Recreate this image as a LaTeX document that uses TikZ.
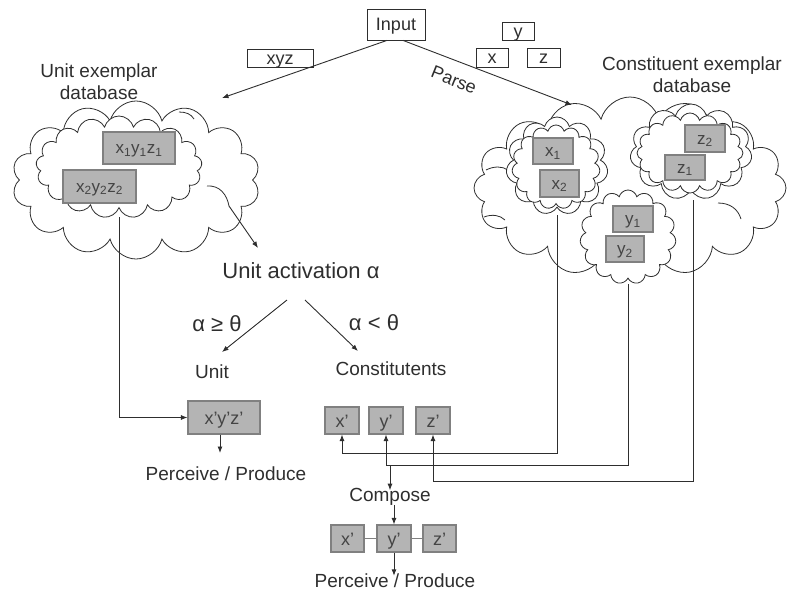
\documentclass[tikz,border=0pt]{standalone}
\usepackage{fontspec}
\setmainfont{Liberation Sans}
\usetikzlibrary{shapes.symbols,arrows.meta}
\definecolor{ink}{HTML}{2E2E2E}
\definecolor{boxfill}{HTML}{B4B4B4}
\definecolor{boxline}{HTML}{808080}
\definecolor{boxtext}{HTML}{444444}

\begin{document}
\begin{tikzpicture}[x=1pt,y=-1pt,
  every node/.style={text=ink},
  wbox/.style={draw=ink, line width=0.8pt, fill=white, inner sep=0pt,
    text height=12.6pt, text depth=0pt,
    font=\fontsize{18}{18}\selectfont},
  gbox/.style={draw=boxline, line width=1.1pt, fill=boxfill, text=boxtext,
    inner sep=0pt, text height=11.2pt, text depth=0pt,
    font=\fontsize{17}{17}\selectfont},
  pbox/.style={gbox, text height=13pt, font=\fontsize{18}{18}\selectfont},
  lbl/.style={font=\fontsize{19}{22}\selectfont, align=center, inner sep=0pt},
  big/.style={font=\fontsize{22}{24}\selectfont, inner sep=0pt},
  blob/.style={cloud, draw=ink, line width=0.8pt, fill=white,
    cloud ignores aspect, cloud puffs=#1, cloud puff arc=150, inner sep=0pt},
  conn/.style={draw=ink, line width=0.9pt},
  arr/.style={conn, -{Latex[length=6.5pt,width=5pt]}},
]
\useasboundingbox (0,0) rectangle (788,592);

% ---- input and its two readings ----
\node[wbox, minimum width=58pt, minimum height=31pt] (input) at (396,24.5) {Input};
\node[wbox, minimum width=66pt, minimum height=18pt] (xyz) at (280,58) {xyz};
\node[wbox, minimum width=32pt, minimum height=18pt] (py) at (518,31) {y};
\node[wbox, minimum width=32pt, minimum height=19pt] (px) at (492,57.5) {x};
\node[wbox, minimum width=33pt, minimum height=19pt] (pz) at (543.5,57.5) {z};

% ---- unit exemplar database ----
\node[lbl] (ulabel) at (99,82) {Unit exemplar\\database};
\node[blob=14, minimum width=248pt, minimum height=158pt] (ucloud) at (136,180) {};
\node[blob=17, minimum width=166pt, minimum height=102pt] (uinner) at (119,167) {};
\draw[conn, line width=0.8pt] (179,112) .. controls (186,112) and (191,114) .. (194,119);
\draw[conn, line width=0.8pt] (207,186) .. controls (220,185) and (227,195) .. (229,206);
\node[gbox, minimum width=72pt, minimum height=32pt] (u1) at (139,148) {x\textsubscript{1}y\textsubscript{1}z\textsubscript{1}};
\node[gbox, minimum width=73pt, minimum height=33pt] (u2) at (99.5,186.5) {x\textsubscript{2}y\textsubscript{2}z\textsubscript{2}};

% ---- constituent exemplar database ----
\node[lbl] (clabel) at (692,75) {Constituent exemplar\\database};
\node[blob=16, minimum width=312pt, minimum height=182pt] (ccloud) at (630,188) {};
\draw[conn, line width=0.8pt] (718,203) .. controls (730,203) and (738,209) .. (741,219);
\draw[conn, line width=0.8pt] (486,170) .. controls (494,166) and (502,166) .. (508,170);
\draw[conn, line width=0.8pt] (484,217) .. controls (492,214) and (500,215) .. (505,220);
\node[blob=11, minimum width=102pt, minimum height=98pt] (xcloud) at (557,166) {};
\node[blob=15, minimum width=88pt, minimum height=84pt] (xinner) at (556,167) {};
\node[blob=11, minimum width=122pt, minimum height=96pt] (zcloud) at (691,152) {};
\node[blob=16, minimum width=106pt, minimum height=80pt] (zinner) at (690,153) {};
\node[blob=15, minimum width=96pt, minimum height=94pt] (ycloud) at (628,237) {};
\node[gbox, minimum width=40pt, minimum height=26pt] (x1) at (553,151) {x\textsubscript{1}};
\node[gbox, minimum width=39pt, minimum height=27pt] (x2) at (559.5,183.5) {x\textsubscript{2}};
\node[gbox, minimum width=40pt, minimum height=27pt] (z2) at (705,138.5) {z\textsubscript{2}};
\node[gbox, minimum width=40pt, minimum height=25pt] (z1) at (685,167.5) {z\textsubscript{1}};
\node[gbox, minimum width=40pt, minimum height=26pt] (y1) at (633,219) {y\textsubscript{1}};
\node[gbox, minimum width=38pt, minimum height=26pt] (y2) at (625,249) {y\textsubscript{2}};

% ---- parsing arrows ----
\coordinate (uin) at (222,98);
\coordinate (cin) at (572,105);
\draw[arr] ([xshift=-9pt]input.south) -- (uin);
\draw[arr] ([xshift=7pt]input.south) -- (cin);
\node[lbl, font=\fontsize{18}{20}\selectfont, rotate=-22] (parse) at (454,80) {Parse};

% ---- activation and decision ----
\node[big] (act) at (301,271) {Unit activation α};
\coordinate (uout) at (229,206);
\coordinate (acttip) at (258,248);
\draw[arr] (uout) -- (acttip);
\coordinate (splitl) at (287,300);
\coordinate (splitr) at (305,300);
\coordinate (unittip) at (222,352);
\coordinate (consttip) at (358,351);
\draw[arr] (splitl) -- (unittip);
\draw[arr] (splitr) -- (consttip);
\node[big] (ge) at (217,324) {α ≥ θ};
\node[big] (lt) at (374,323) {α < θ};
\node[lbl] (unit) at (212,372) {Unit};
\node[lbl] (const) at (391,369) {Constitutents};

% ---- unit route ----
\node[pbox, minimum width=72pt, minimum height=33pt] (uxyz) at (224,417.5) {x'y'z'};
\node[lbl] (pp1) at (226,474) {Perceive / Produce};
\coordinate (ustart) at (119,217);
\coordinate (pp1tip) at (220,453);
\draw[arr] (ustart) |- (uxyz.west);
\draw[arr] (uxyz.south -| pp1tip) -- (pp1tip);

% ---- constituent route ----
\node[pbox, minimum width=34pt, minimum height=27pt] (cx) at (342,420.5) {x'};
\node[pbox, minimum width=34pt, minimum height=27pt] (cy) at (386,420.5) {y'};
\node[pbox, minimum width=34pt, minimum height=27pt] (cz) at (433,420.5) {z'};
\coordinate (xstart) at (557,215);
\coordinate (ystart) at (628,284);
\coordinate (zstart) at (693,200);
\coordinate (xbend) at (557,453);
\coordinate (ybend) at (628,465);
\coordinate (zbend) at (693,481);
\draw[arr] (xstart) -- (xbend) -| (cx.south);
\draw[arr] (ystart) -- (ybend) -| (cy.south);
\draw[arr] (zstart) -- (zbend) -| (cz.south);

\node[lbl] (compose) at (390,497) {Compose};
\coordinate (cjoin) at (390,465);
\draw[arr] (cjoin) -- ([yshift=-2pt]compose.north);

\node[pbox, minimum width=33pt, minimum height=27pt] (bx) at (347.5,538.5) {x'};
\node[pbox, minimum width=34pt, minimum height=27pt] (by) at (394,538.5) {y'};
\node[pbox, minimum width=33pt, minimum height=27pt] (bz) at (439.5,538.5) {z'};
\draw[conn, draw=boxline] (bx.east) -- (by.west);
\draw[conn, draw=boxline] (by.east) -- (bz.west);
\draw[arr] ([yshift=1pt]compose.south -| by.north) -- (by.north);
\node[lbl] (pp2) at (395,581) {Perceive / Produce};
\draw[arr] (by.south) -- ([yshift=-2pt]pp2.north -| by.south);
\end{tikzpicture}
\end{document}
